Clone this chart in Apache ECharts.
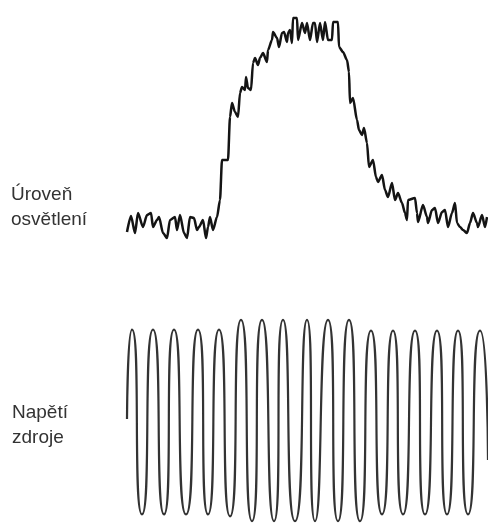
<!DOCTYPE html>
<html>
<head>
<meta charset="utf-8">
<script src="https://cdn.jsdelivr.net/npm/echarts@6/dist/echarts.min.js"></script>
<style>
  html, body { margin: 0; padding: 0; background: #fff; }
  #main { width: 488px; height: 528px; }
</style>
</head>
<body>
<div id="main"></div>
<script>
// light level trace (time, level)
var lightTime = [0, 4, 8, 11, 16, 20, 24, 26, 30, 32, 36, 40, 43, 48, 50, 53, 57, 60, 63, 67, 70, 72, 76, 79, 81, 83, 86, 90,
    93, 95, 101, 103, 105, 108, 111, 113, 115, 118, 119, 121, 124, 126, 128, 131, 133, 136, 140, 141, 145, 146, 150, 152, 155, 157, 160, 161, 163, 165,
    166, 170, 171, 175, 178, 180, 183, 186, 188, 190, 193, 196, 198, 201, 205, 206, 211,
    212, 216, 220, 222, 223, 226, 230, 232, 235, 237, 240, 242, 246, 249, 251, 255, 258, 261, 265, 268, 271, 275, 278, 280, 281,
    288, 290, 291, 296, 300, 301, 305, 308, 311, 315, 318, 321, 325, 328, 330, 333, 336, 340, 343, 346, 350, 351, 355, 358, 360];
var lightLevel = [8, 24, 7, 27, 13, 25, 27, 13, 20, 23, 7, 2, 20, 23, 10, 25, 7, 2, 23, 22, 10, 13, 20, 2, 13, 23, 10, 23,
    40, 80, 80, 123, 137, 128, 123, 147, 153, 150, 163, 152, 150, 177, 182, 175, 182, 187, 178, 190, 200, 208, 202, 193, 207, 208, 198, 207, 210, 197,
    222, 222, 200, 217, 207, 217, 200, 217, 217, 198, 217, 200, 218, 200, 200, 218, 218,
    193, 188, 180, 168, 137, 142, 120, 110, 105, 112, 97, 73, 80, 63, 58, 65, 50, 43, 57, 40, 47, 37, 27, 20, 40,
    42, 27, 18, 35, 23, 17, 30, 32, 17, 28, 30, 13, 27, 37, 17, 13, 10, 7, 17, 27, 17, 13, 25, 13, 23];

// supply voltage: start, peaks and troughs (time, value)
var voltTime = [0, 5, 15, 26, 37, 47, 59, 71, 81, 92, 103, 114, 125, 135, 147, 156, 168, 180, 188, 201, 211, 222, 233,
    244, 255, 266, 276, 288, 298, 310, 320, 331, 341, 353, 361];
var voltValue = [2, 94, -96, 94, -96, 94, -96, 94, -96, 94, -98, 104, -103, 104, -103, 104, -103, 104, -103, 104, -103, 104, -103,
    93, -96, 93, -96, 93, -96, 93, -96, 93, -96, 93, -40];

var labelLight = ['Úroveň', 'osvětlení'];
var labelVolt = ['Napětí', 'zdroje'];

function pairs(xs, ys) {
    var out = [];
    for (var i = 0; i < xs.length; i++) out.push([xs[i], ys[i]]);
    return out;
}

var myChart = echarts.init(document.getElementById('main'));
var textFont = '19px "Liberation Sans", Arial, sans-serif';
var option = {
    animation: false,
    backgroundColor: '#fff',
    grid: [
        {left: 127, right: 0, top: 0, height: 240},
        {left: 127, right: 0, top: 314, height: 220}
    ],
    xAxis: [
        {gridIndex: 0, type: 'value', min: 0, max: 361, show: false},
        {gridIndex: 1, type: 'value', min: 0, max: 361, show: false}
    ],
    yAxis: [
        {gridIndex: 0, type: 'value', min: 0, max: 240, show: false},
        {gridIndex: 1, type: 'value', min: -110, max: 110, show: false}
    ],
    series: [
        {
            type: 'line', xAxisIndex: 0, yAxisIndex: 0,
            data: pairs(lightTime, lightLevel),
            smooth: 0.25,
            smoothMonotone: 'x',
            showSymbol: false,
            lineStyle: {color: '#141414', width: 2.5}
        },
        {
            type: 'line', xAxisIndex: 1, yAxisIndex: 1,
            data: pairs(voltTime, voltValue),
            smooth: 0.9,
            showSymbol: false,
            lineStyle: {color: '#333', width: 2.2}
        }
    ],
    graphic: [
        {type: 'text', left: 11, top: 185, style: {text: labelLight[0], font: textFont, fill: '#333'}},
        {type: 'text', left: 11, top: 210, style: {text: labelLight[1], font: textFont, fill: '#333'}},
        {type: 'text', left: 12, top: 403, style: {text: labelVolt[0], font: textFont, fill: '#333'}},
        {type: 'text', left: 12, top: 428, style: {text: labelVolt[1], font: textFont, fill: '#333'}}
    ]
};
myChart.setOption(option);
</script>
</body>
</html>
